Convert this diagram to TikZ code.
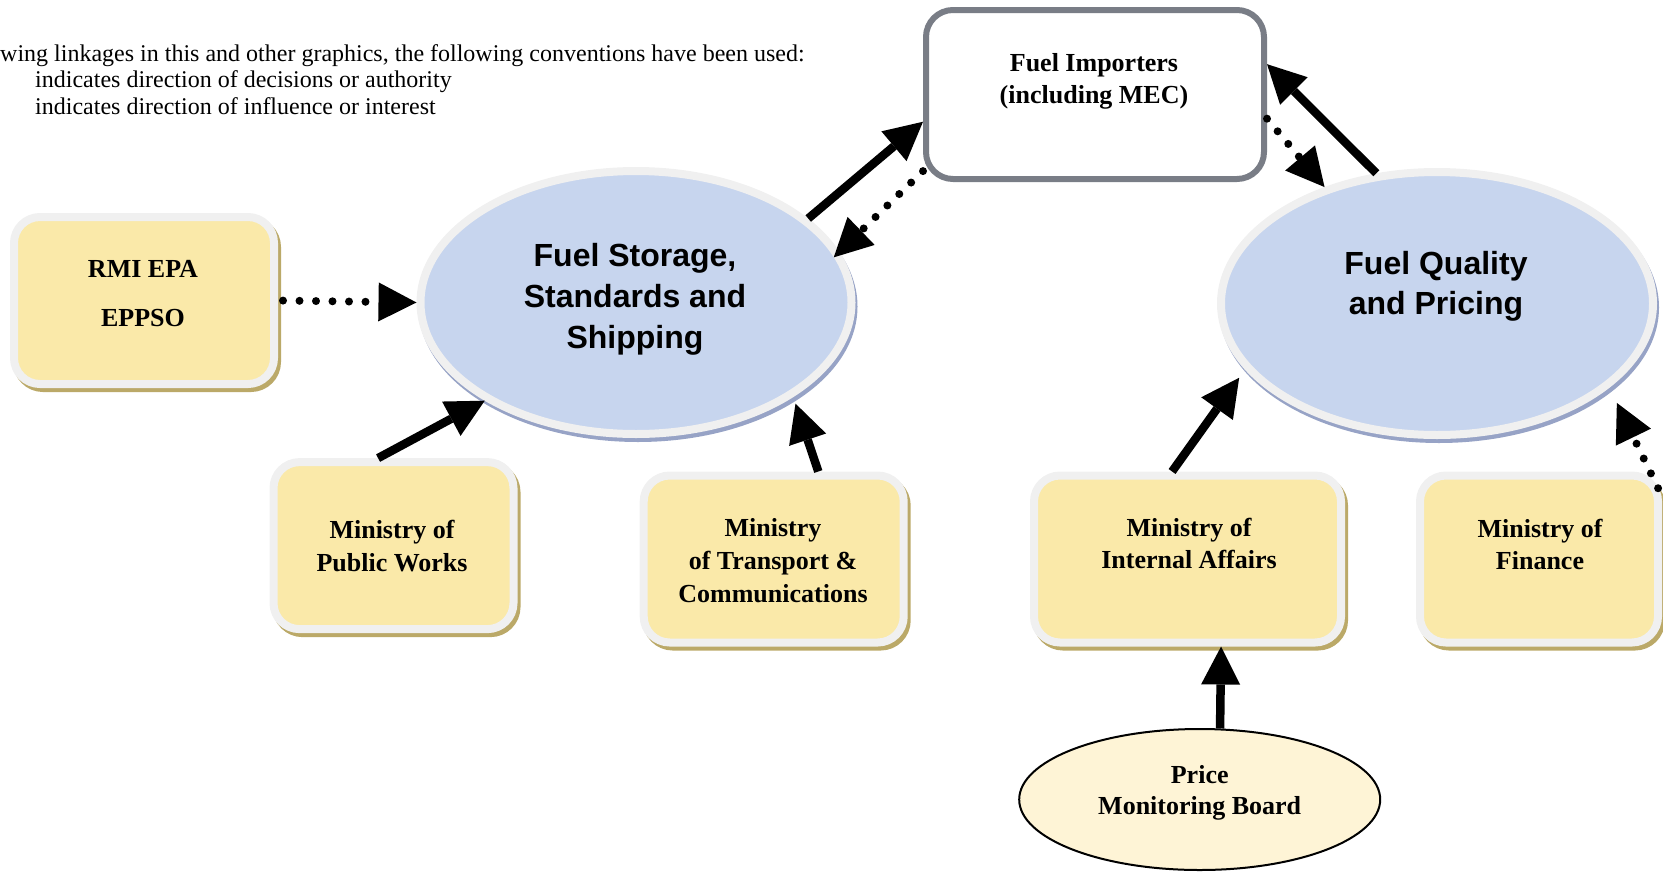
\documentclass[tikz,border=0pt]{standalone}
\usepackage{fontspec}
\setmainfont{Liberation Serif}
\newfontfamily\arialfont{Liberation Sans}
\usetikzlibrary{arrows.meta,shapes.geometric,shadows}
\definecolor{yfill}{HTML}{FAE9A9}
\definecolor{ring}{HTML}{F0F0F0}
\definecolor{tanshadow}{HTML}{BBA968}
\definecolor{bfill}{HTML}{C7D5EE}
\definecolor{blueshadow}{HTML}{97A3C6}
\definecolor{impgray}{HTML}{797D86}
\definecolor{creamfill}{HTML}{FEF4D6}
\tikzset{
  ybox/.style={rectangle, rounded corners=26pt, draw=ring, line width=8pt, fill=yfill,
    inner sep=0pt, minimum height=167pt,
    drop shadow={shadow xshift=3pt, shadow yshift=-4pt, opacity=1, fill=tanshadow, draw=tanshadow, line width=8pt}},
  blueell/.style={ellipse, draw=ring, line width=8pt, fill=bfill, inner sep=0pt,
    minimum width=431pt, minimum height=263pt,
    drop shadow={shadow xshift=2pt, shadow yshift=-4pt, opacity=1, fill=blueshadow, draw=blueshadow, line width=8pt}},
  impbox/.style={rectangle, rounded corners=27pt, draw=impgray, line width=6pt, fill=white,
    inner sep=0pt, minimum width=338pt, minimum height=169pt},
  boardell/.style={ellipse, draw=black, line width=2pt, fill=creamfill, inner sep=0pt,
    minimum width=361pt, minimum height=141pt},
  serlbl/.style={align=center, inner sep=0pt, font=\fontsize{26}{33}\selectfont\bfseries},
  sanslbl/.style={align=center, inner sep=0pt, font=\arialfont\fontsize{32}{41}\selectfont\bfseries},
  toptext/.style={anchor=base west, inner sep=0pt, font=\fontsize{24}{26}\selectfont},
  auth/.style={line width=8.5pt, -{Triangle[length=38pt,width=39pt,line width=0pt]}},
  infl/.style={line width=8pt, line cap=round, dash pattern=on 0pt off 16.5pt,
    -{Triangle[length=38pt,width=39pt,line width=0pt]}},
}
\begin{document}
\begin{tikzpicture}[x=1pt,y=-1pt]
\useasboundingbox (0,0) rectangle (1663,871);

% top legend text
\node[toptext] (t1) at (0,61) {wing linkages in this and other graphics, the following conventions have been used:};
\node[toptext] (t2) at (35,87.5) {indicates direction of decisions or authority};
\node[toptext] (t3) at (35,114) {indicates direction of influence or interest};

% boxes
\node[ybox, minimum width=260pt] (rmi) at (144,300.5) {};
\node[serlbl] (rmit) at (143,294) {RMI EPA\\[16pt]EPPSO};

\node[ybox, minimum width=240pt] (pw) at (393.5,545.6) {};
\node[serlbl] (pwt) at (392,546) {Ministry of\\Public Works};

\node[ybox, minimum width=260pt] (tr) at (773.7,559) {};
\node[serlbl] (trt) at (773,561) {Ministry\\of Transport \&\\Communications};

\node[ybox, minimum width=307pt] (int) at (1187.5,559) {};
\node[serlbl] (intt) at (1189,543) {Ministry of\\[-1pt]Internal Affairs};

\node[ybox, minimum width=238pt] (fin) at (1539,559) {};
\node[serlbl] (fint) at (1540,544) {Ministry of\\[-1pt]Finance};

% ellipses
\node[blueell] (storage) at (636,302.5) {};
\node[sanslbl] (storaget) at (635,299) {Fuel Storage,\\Standards and\\Shipping};

\node[blueell, minimum width=432pt] (quality) at (1437,303.5) {};
\node[sanslbl] (qualityt) at (1436,286) {Fuel Quality\\[-1pt]and Pricing};

% importers
\node[impbox] (imp) at (1095,94.5) {};
\node[serlbl] (impt) at (1094,81) {Fuel Importers\\[-1pt](including MEC)};

% price monitoring board
\node[boardell] (board) at (1199.7,799.5) {};
\node[serlbl] (boardt) at (1199.7,793) {Price\\[-2pt]Monitoring Board};

% connectors
\draw[infl, shorten <=5pt] (rmi.east) -- (storage.west);
\draw[auth] (pw.100) -- (storage.213.8);
\draw[auth, shorten >=7pt] (tr.63.6) -- (storage.-31.8);
\draw[auth] (storage.26.6) -- (imp.189.5);
\draw[infl, shorten >=-8pt] (imp.204.6) -- (storage.14.9);
\draw[auth] (quality.115.9) -- (imp.10);
\draw[infl] (imp.-8) -- (quality.134.1);
\draw[auth, shorten >=10pt] (int.100.5) -- (quality.199.25);
\draw[infl, shorten <=9pt, shorten >=17pt] (fin.27) -- (quality.-26.9);
\draw[auth] (board.74.4) -- (int.-69.4);
\end{tikzpicture}
\end{document}
